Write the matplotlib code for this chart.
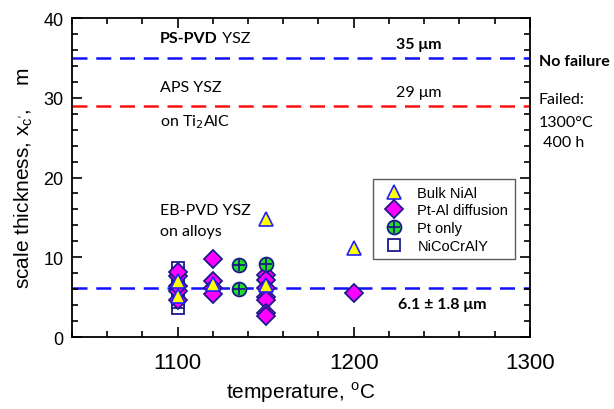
import matplotlib
matplotlib.use("Agg")
import matplotlib.pyplot as plt
from matplotlib.lines import Line2D
from matplotlib.ticker import MultipleLocator

plt.rcParams['font.family'] = ['Liberation Sans', 'DejaVu Sans']

# Data
niai_T = [1100, 1100, 1120, 1150, 1150, 1200]
niai_x = [5.2, 7.0, 6.6, 14.8, 6.5, 11.2]

ptal_T = [1100, 1100, 1100, 1100, 1100, 1120, 1120, 1120, 1120,
          1150, 1150, 1150, 1150, 1150, 1150, 1150, 1200]
ptal_x = [4.6, 5.8, 6.4, 7.6, 8.2, 9.8, 7.0, 6.2, 5.4,
          7.8, 7.2, 6.2, 5.0, 4.6, 3.0, 2.6, 5.5]

pt_T = [1135, 1135, 1150]
pt_x = [9.0, 6.0, 9.2]

nico_T = [1100] * 9
nico_x = [3.6, 4.4, 5.0, 5.6, 6.2, 6.8, 7.4, 8.0, 8.6]

ps_pvd = 35
aps = 29
eb_pvd = 6.1

fig = plt.figure(figsize=(6.14, 4.10), dpi=100)
ax = fig.add_axes([0.117, 0.1756, 0.746, 0.778])

ax.axhline(ps_pvd, color='#1010ff', ls=(0, (6, 3.5)), lw=1.8, zorder=1)
ax.axhline(aps, color='#ff1010', ls=(0, (6, 3.5)), lw=1.8, zorder=1)
ax.axhline(eb_pvd, color='#1010ff', ls=(0, (6, 3.5)), lw=1.8, zorder=1)

ax.plot(nico_T, nico_x, ls='none', marker='s', ms=8, mfc='white', mec='#1a1a8c', mew=1.3, zorder=3)
ax.plot(ptal_T, ptal_x, ls='none', marker='D', ms=9, mfc='#ff00ff', mec='#1a1a8c', mew=1.3, zorder=4)
ax.plot(niai_T, niai_x, ls='none', marker='^', ms=10, mfc='#ffff00', mec='#2020ff', mew=1.2, zorder=5)
ax.plot(pt_T, pt_x, ls='none', marker='o', ms=10, mfc='#22dd22', mec='#1a1a8c', mew=1.3, zorder=5)
ax.plot(pt_T, pt_x, ls='none', marker='+', ms=9, mec='#1a1a8c', mew=1.3, zorder=6)

ax.set_xlim(1040, 1300)
ax.set_ylim(0, 40)
ax.xaxis.set_major_locator(MultipleLocator(100))
ax.xaxis.set_minor_locator(MultipleLocator(20))
ax.yaxis.set_major_locator(MultipleLocator(10))
ax.yaxis.set_minor_locator(MultipleLocator(2))
ax.tick_params(which='both', direction='in', top=True, right=True, width=1.2)
ax.tick_params(which='major', length=7)
ax.tick_params(which='minor', length=4)
ax.tick_params(axis='x', which='major', labelsize=16, pad=11)
ax.tick_params(axis='y', which='major', labelsize=13, pad=6)
for s in ax.spines.values():
    s.set_linewidth(1.3)

ax.set_xlabel('temperature, $^{\\mathregular{o}}$C', fontsize=15, labelpad=4)
ax.set_ylabel("scale thickness, x$_{\\mathregular{c'}}$,    m", fontsize=15, labelpad=6)

tf = ['Lato', 'DejaVu Sans']
fs = 11.5
t1 = ax.text(1090, 37.5, 'PS-PVD', fontsize=fs, family=tf, fontweight='bold', va='center')
fig.canvas.draw()
bb = t1.get_window_extent()
x_end = ax.transData.inverted().transform((bb.x1, bb.y0))[0]
ax.text(x_end, 37.5, ' YSZ', fontsize=fs, family=tf, va='center')
ax.text(1090, 31.3, 'APS YSZ', fontsize=fs, family=tf, va='center')
ax.text(1090, 27.1, 'on Ti$_2$AlC', fontsize=fs, family=tf, va='center')
ax.text(1090, 15.9, 'EB-PVD YSZ', fontsize=fs, family=tf, va='center')
ax.text(1090, 13.3, 'on alloys', fontsize=fs, family=tf, va='center')
ax.text(1237, 36.7, '35 μm', fontsize=fs, family=tf, fontweight='bold', va='center', ha='center')
ax.text(1237, 30.7, '29 μm', fontsize=fs, family=tf, va='center', ha='center')
ax.text(1250, 4.1, '6.1 ± 1.8 μm', fontsize=fs, family=tf, fontweight='bold', va='center', ha='center')
ax.text(1305, 34.6, 'No failure', fontsize=fs, family=tf, fontweight='bold', va='center')
ax.text(1305, 29.8, 'Failed:', fontsize=fs, family=tf, va='center')
ax.text(1305, 27.0, '1300°C', fontsize=fs, family=tf, va='center')
ax.text(1305, 24.4, ' 400 h', fontsize=fs, family=tf, va='center')

handles = [
    Line2D([], [], ls='none', marker='^', ms=10, mfc='#ffff00', mec='#2020ff', mew=1.2),
    Line2D([], [], ls='none', marker='D', ms=9, mfc='#ff00ff', mec='#1a1a8c', mew=1.3),
    (Line2D([], [], ls='none', marker='o', ms=10, mfc='#22dd22', mec='#1a1a8c', mew=1.3),
     Line2D([], [], ls='none', marker='+', ms=9, mec='#1a1a8c', mew=1.3)),
    Line2D([], [], ls='none', marker='s', ms=9, mfc='white', mec='#1a1a8c', mew=1.3),
]
labels = ['Bulk NiAl', 'Pt-Al diffusion', 'Pt only', 'NiCoCrAlY']
leg = ax.legend(handles, labels, loc='upper right', bbox_to_anchor=(0.967, 0.495),
                borderaxespad=0, fontsize=10.5, frameon=True, fancybox=False,
                edgecolor='#333333', handlelength=2.0, handletextpad=0.6,
                labelspacing=0.25, borderpad=0.45)
leg.get_frame().set_linewidth(1.0)

fig.savefig('out.png', dpi=100)
